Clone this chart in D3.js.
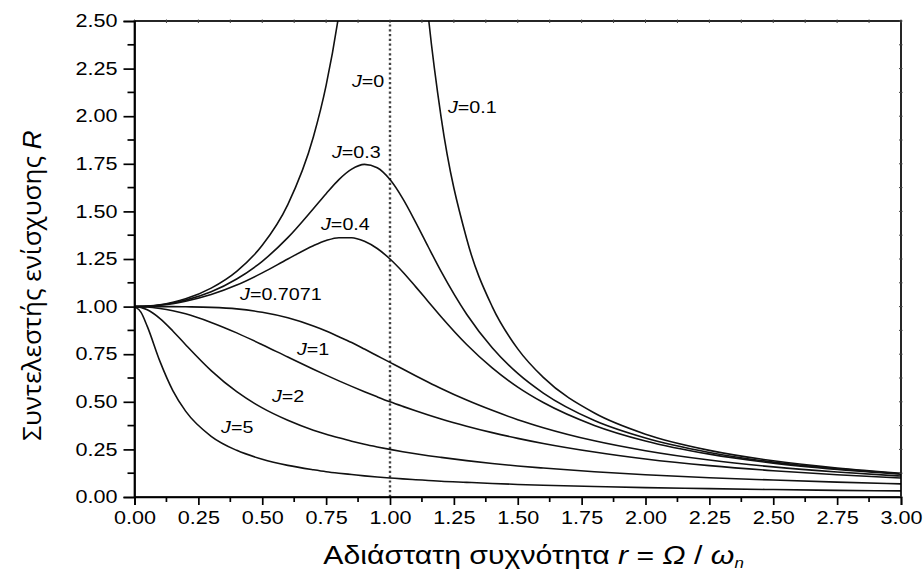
<!DOCTYPE html>
<html>
<head>
    <meta charset="utf-8" />
    <title>Συντελεστής ενίσχυσης</title>
    <style>
        body { margin: 0; background: #fff; }
        text { font-family: "Liberation Sans", Arial, sans-serif; fill: #000; }
    </style>
</head>
<body>
<script src="https://d3js.org/d3.v7.min.js"></script>
<script>

    // frequency ratio r where the curves were read
    var ratios = [0, 0.025, 0.05, 0.1, 0.15, 0.2, 0.3, 0.4, 0.5, 0.6, 0.7, 0.75, 0.8, 0.85, 0.9, 0.95,
                  1.0, 1.05, 1.1, 1.15, 1.2, 1.3, 1.4, 1.5, 1.6, 1.8, 2.0, 2.25, 2.5, 2.75, 3.0];

    // amplification R for each damping value
    var r01   = [1.000, 1.001, 1.003, 1.010, 1.023, 1.041, 1.097, 1.185, 1.322, 1.536, 1.891, 2.162, 2.538, 3.073, 3.821, 4.683,
                 5.000, 4.279, 3.288, 2.525, 1.995, 1.356, 1.000, 0.778, 0.628, 0.441, 0.330, 0.245, 0.190, 0.152, 0.125];
    var r03   = [1.000, 1.001, 1.002, 1.008, 1.019, 1.034, 1.078, 1.145, 1.238, 1.362, 1.514, 1.593, 1.667, 1.722, 1.747, 1.729,
                 1.667, 1.567, 1.444, 1.313, 1.185, 0.960, 0.784, 0.649, 0.546, 0.402, 0.310, 0.234, 0.183, 0.148, 0.122];
    var r04   = [1.000, 1.000, 1.002, 1.007, 1.015, 1.028, 1.063, 1.113, 1.177, 1.250, 1.320, 1.347, 1.362, 1.362, 1.343, 1.305,
                 1.250, 1.182, 1.105, 1.026, 0.947, 0.801, 0.678, 0.577, 0.496, 0.376, 0.294, 0.225, 0.178, 0.145, 0.120];
    var r07   = [1.000, 1.000, 1.000, 1.000, 1.000, 0.999, 0.996, 0.988, 0.970, 0.941, 0.898, 0.872, 0.842, 0.811, 0.777, 0.742,
                 0.707, 0.672, 0.637, 0.603, 0.570, 0.509, 0.455, 0.406, 0.364, 0.295, 0.243, 0.194, 0.158, 0.131, 0.110];
    var r1    = [1.000, 0.999, 0.998, 0.990, 0.978, 0.962, 0.917, 0.862, 0.800, 0.735, 0.671, 0.640, 0.610, 0.581, 0.553, 0.526,
                 0.500, 0.476, 0.453, 0.431, 0.410, 0.372, 0.338, 0.308, 0.281, 0.236, 0.200, 0.165, 0.138, 0.117, 0.100];
    var r2    = [1.000, 0.996, 0.983, 0.937, 0.872, 0.800, 0.664, 0.553, 0.468, 0.403, 0.351, 0.330, 0.311, 0.293, 0.277, 0.263,
                 0.250, 0.238, 0.227, 0.217, 0.208, 0.191, 0.176, 0.163, 0.152, 0.133, 0.117, 0.101, 0.089, 0.078, 0.069];
    var r5    = [1.000, 0.971, 0.896, 0.711, 0.559, 0.451, 0.319, 0.245, 0.198, 0.166, 0.143, 0.133, 0.125, 0.118, 0.111, 0.105,
                 0.100, 0.095, 0.091, 0.087, 0.083, 0.077, 0.071, 0.066, 0.062, 0.055, 0.049, 0.044, 0.039, 0.035, 0.032];

    var seriesList = [r01, r03, r04, r07, r1, r2, r5];

    // curve labels: text and where they sit (in r, R units)
    var labelNames = ["0", "0.1", "0.3", "0.4", "0.7071", "1", "2", "5"];
    var labelR     = [0.851, 1.227, 0.773, 0.730, 0.413, 0.636, 0.538, 0.339];
    var labelAmp   = [2.152, 2.016, 1.780, 1.402, 1.034, 0.745, 0.499, 0.336];

    var xTicks = d3.range(0, 3.001, 0.25);
    var yTicks = d3.range(0, 2.501, 0.25);
    var xMinor = d3.range(0.125, 3, 0.25);
    var yMinor = d3.range(0.125, 2.5, 0.25);

    var width = 923;
    var height = 574;
    var margin = {"left":134.5, "right":22, "top":21, "bottom":77};
    var textStretch = 1.2;

    var svg = d3.select("body").append("svg")
                .attr("width", width)
                .attr("height", height);

    var x = d3.scaleLinear()
              .domain([0, 3])
              .range([margin.left, width - margin.right]);

    var y = d3.scaleLinear()
              .domain([0, 2.5])
              .range([height - margin.bottom, margin.top]);

    svg.append("clipPath")
       .attr("id", "plotclip")
       .append("rect")
       .attr("x", margin.left)
       .attr("y", margin.top)
       .attr("width", width - margin.left - margin.right)
       .attr("height", height - margin.top - margin.bottom);

    // dotted line at resonance
    svg.append("line")
       .attr("x1", x(1)).attr("x2", x(1))
       .attr("y1", y(0)).attr("y2", y(2.5))
       .attr("stroke", "#444")
       .attr("stroke-width", 2.4)
       .attr("stroke-dasharray", "2.2,2.6");

    var line = d3.line()
                 .x((d, i) => x(ratios[i]))
                 .y(d => y(d))
                 .curve(d3.curveMonotoneX);

    svg.append("g")
       .attr("clip-path", "url(#plotclip)")
       .selectAll("path")
       .data(seriesList)
       .enter()
       .append("path")
       .attr("d", line)
       .attr("fill", "none")
       .attr("stroke", "#111")
       .attr("stroke-width", 1.6);

    // frame + small ticks on top and right
    svg.append("rect")
       .attr("x", margin.left)
       .attr("y", margin.top)
       .attr("width", width - margin.left - margin.right)
       .attr("height", height - margin.top - margin.bottom)
       .attr("fill", "none")
       .attr("stroke", "#000")
       .attr("stroke-width", 1.7);

    svg.append("g")
       .selectAll("line")
       .data(xTicks.concat(xMinor))
       .enter()
       .append("line")
       .attr("x1", d => x(d)).attr("x2", d => x(d))
       .attr("y1", y(2.5) - 1.5).attr("y2", y(2.5) + 2)
       .attr("stroke", "#444");

    svg.append("g")
       .selectAll("line")
       .data(yTicks.concat(yMinor))
       .enter()
       .append("line")
       .attr("y1", d => y(d)).attr("y2", d => y(d))
       .attr("x1", x(3) - 2).attr("x2", x(3) + 1.5)
       .attr("stroke", "#444");

    // bottom axis
    var xAxis = d3.axisBottom(x)
                  .tickValues(xTicks)
                  .tickSize(8)
                  .tickPadding(6)
                  .tickFormat(d3.format(".2f"));

    var xAxisView = svg.append("g")
                       .attr("transform", "translate(0," + y(0) + ")")
                       .call(xAxis);

    xAxisView.selectAll(".tick text")
             .attr("transform", "scale(" + textStretch + ",1)");

    xAxisView.selectAll(".minor")
             .data(xMinor)
             .enter()
             .append("line")
             .attr("class", "minor")
             .attr("x1", d => x(d)).attr("x2", d => x(d))
             .attr("y1", 0).attr("y2", 5)
             .attr("stroke", "#000")
             .attr("stroke-width", 1.7);

    // left axis
    var yAxis = d3.axisLeft(y)
                  .tickValues(yTicks)
                  .tickSize(11)
                  .tickPadding(6)
                  .tickFormat(d3.format(".2f"));

    var yAxisView = svg.append("g")
                       .attr("transform", "translate(" + x(0) + ",0)")
                       .call(yAxis);

    yAxisView.selectAll(".tick text")
             .attr("x", -17 / textStretch)
             .attr("transform", "scale(" + textStretch + ",1)");

    yAxisView.selectAll(".minor")
             .data(yMinor)
             .enter()
             .append("line")
             .attr("class", "minor")
             .attr("y1", d => y(d)).attr("y2", d => y(d))
             .attr("x1", 0).attr("x2", -7)
             .attr("stroke", "#000")
             .attr("stroke-width", 1.7);

    svg.selectAll(".domain").attr("stroke-width", 1.7);
    svg.selectAll(".tick line").attr("stroke-width", 1.7);
    svg.selectAll(".tick text")
       .attr("font-family", "'Liberation Sans', Arial, sans-serif")
       .attr("font-size", 18)
       .attr("fill", "#111");

    // curve labels
    var labels = svg.append("g")
                    .selectAll("g")
                    .data(labelNames)
                    .enter()
                    .append("g")
                    .attr("transform", (d, i) => "translate(" + x(labelR[i]) + "," + y(labelAmp[i]) + ") scale(1.16,1)");

    var labelText = labels.append("text")
                          .attr("font-size", 17)
                          .attr("fill", "#111");

    labelText.append("tspan")
             .attr("font-style", "italic")
             .text("J");
    labelText.append("tspan")
             .text(d => "=" + d);

    // axis titles
    var xTitle = svg.append("text")
                    .attr("transform", "translate(" + x(1.562) + "," + (height - 10) + ") scale(1.21,1)")
                    .attr("text-anchor", "middle")
                    .attr("font-size", 25)
                    .attr("fill", "#111");

    xTitle.append("tspan").text("Αδιάστατη συχνότητα ");
    xTitle.append("tspan").attr("font-style", "italic").text("r");
    xTitle.append("tspan").text(" = ");
    xTitle.append("tspan").attr("font-style", "italic").text("Ω");
    xTitle.append("tspan").text(" / ");
    xTitle.append("tspan").attr("font-style", "italic").text("ω");
    xTitle.append("tspan").attr("font-style", "italic").attr("font-size", 14).attr("dy", 4).text("n");

    var yTitle = svg.append("text")
                    .attr("transform", "translate(41," + y(1.11) + ") rotate(-90)")
                    .attr("text-anchor", "middle")
                    .attr("font-size", 26)
                    .attr("fill", "#111");

    yTitle.append("tspan")
          .style("font-family", "'Open Sans', 'Noto Sans', sans-serif")
          .text("Συντελεστής ενίσχυσης ");
    yTitle.append("tspan")
          .attr("font-style", "italic")
          .text("R");

</script>
</body>
</html>
